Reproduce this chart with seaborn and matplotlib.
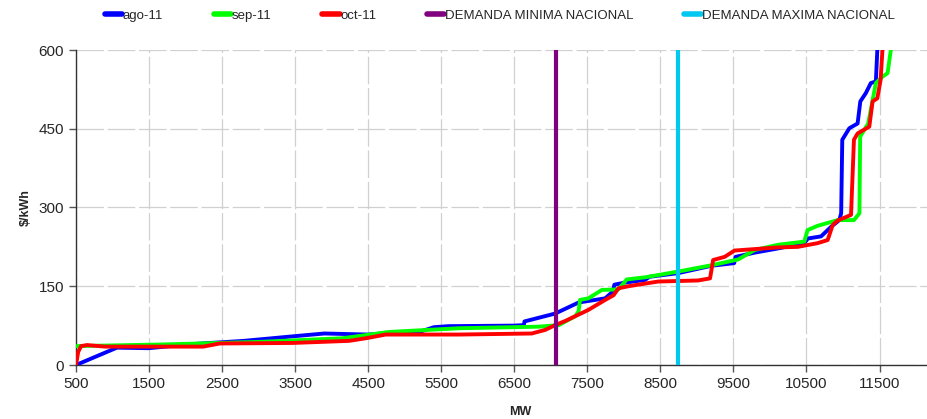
import numpy as np
import pandas as pd
import seaborn as sns
import matplotlib.pyplot as plt
from matplotlib.lines import Line2D

# Curvas de oferta de precios ($/kWh vs MW)
ago_mw = [500, 1060, 1500, 2000, 2800, 3500, 3900, 4200, 4500, 4800, 5200, 5400, 5600,
          6500, 6630, 6640, 7060, 7380, 7745, 7850, 7870, 8015, 8290, 8350, 8744, 9200,
          9510, 9530, 9790, 10110, 10470, 10520, 10700, 10835, 10950, 10975, 10990,
          11087, 11200, 11237, 11313, 11381, 11450, 11470]
ago_precio = [0, 33, 32, 39, 46, 55, 60, 59, 58, 61, 63, 72, 74,
              75, 76, 83, 98, 119, 127, 140, 153, 157, 162, 168, 175, 189,
              194, 206, 214, 222, 232, 241, 245, 263, 276, 289, 429,
              451, 460, 502, 518, 537, 540, 600]

sep_mw = [500, 1650, 3015, 4150, 4790, 5740, 6835, 7110, 7335, 7380, 7400, 7515, 7700,
          7925, 8040, 8290, 8744, 9200, 9565, 9790, 10110, 10470, 10515, 10650, 10925,
          11150, 11225, 11235, 11345, 11450, 11540, 11610, 11655]
sep_precio = [36, 39, 44, 51, 63, 70, 73, 76, 93, 102, 124, 127, 143,
              144, 163, 167, 178, 190, 201, 219, 229, 235, 257, 265, 276,
              276, 289, 435, 460, 537, 549, 556, 600]

oct_mw = [500, 530, 570, 650, 900, 2240, 2470, 3465, 4240, 4470, 4740, 5740, 6740, 6925,
          7060, 7200, 7515, 7745, 7860, 7925, 8060, 8470, 9015, 9180, 9222, 9380, 9515,
          10110, 10380, 10650, 10790, 10860, 10925, 11110, 11150, 11200, 11360, 11405,
          11470, 11515, 11540]
oct_precio = [0, 25, 36, 38, 35, 35, 41, 42, 46, 51, 58, 58, 60, 67,
              76, 84, 105, 124, 133, 146, 150, 159, 161, 165, 200, 206, 218,
              224, 225, 232, 238, 267, 275, 286, 429, 441, 454, 502,
              508, 543, 600]

demanda_min = 7066
demanda_max = 8744

series = [("ago-11", ago_mw, ago_precio, "#0000FF"),
          ("sep-11", sep_mw, sep_precio, "#00FF00"),
          ("oct-11", oct_mw, oct_precio, "#FF0000")]

sns.set_style("white")
plt.rcParams['font.family'] = ['Liberation Sans', 'DejaVu Sans']

fig = plt.figure(figsize=(9.27, 4.19), dpi=100)
ax = fig.add_axes([76/927, 54/419, 851/927, 315/419])

for name, x, y, c in series:
    df = pd.DataFrame({"MW": x, "precio": y})
    sns.lineplot(data=df, x="MW", y="precio", sort=False, estimator=None,
                 color=c, lw=2.8, ax=ax, zorder=3)

ax.axvline(demanda_min, color="#800080", lw=3, zorder=4)
ax.axvline(demanda_max, color="#00C8F0", lw=3, zorder=4)

ax.set_xlim(500, 12150)
ax.set_ylim(0, 600)
ax.set_xticks(np.arange(500, 12000, 1000))
ax.set_yticks([0, 150, 300, 450, 600])
ax.grid(True, color="#D0D0D0", lw=0.9, dashes=(22, 3))
ax.set_axisbelow(True)
for s in ["top", "right"]:
    ax.spines[s].set_visible(False)
for s in ["left", "bottom"]:
    ax.spines[s].set_color("#333333")
    ax.spines[s].set_linewidth(1)
ax.tick_params(axis="both", direction="out", length=5, width=1, color="#555555",
               labelsize=11, bottom=True, left=True)

ax.set_xlabel("MW", fontsize=9, fontweight="bold")
ax.xaxis.set_label_coords((520 - 76) / 851, -0.13)
ax.set_ylabel("$/kWh", fontsize=9, fontweight="bold")
ax.yaxis.set_label_coords(-0.052, 0.5)

handles = [Line2D([], [], color=c, lw=4) for _, _, _, c in series]
handles += [Line2D([], [], color="#800080", lw=4), Line2D([], [], color="#00C8F0", lw=4)]
labels = [s[0] for s in series] + ["DEMANDA MINIMA NACIONAL", "DEMANDA MAXIMA NACIONAL"]
fig.legend(handles, labels, loc="upper center", bbox_to_anchor=(500/927, 1.005), ncol=5,
           frameon=False, fontsize=9.5, handlelength=1.3, handletextpad=0.05,
           columnspacing=3.85)

fig.savefig("out.png", dpi=100)
